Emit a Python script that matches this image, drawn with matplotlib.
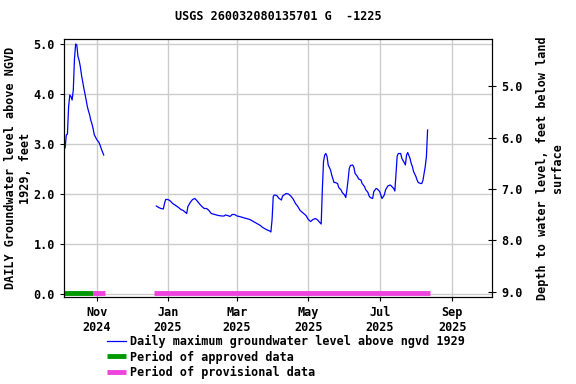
import datetime as dt
import matplotlib
matplotlib.use("Agg")
import matplotlib.pyplot as plt
import matplotlib.dates as mdates

plt.rcParams['font.family'] = 'DejaVu Sans Mono'
plt.rcParams['font.weight'] = 'bold'
plt.rcParams['axes.labelweight'] = 'bold'
plt.rcParams['axes.titleweight'] = 'bold'
plt.rcParams['font.size'] = 8.5

# first stretch of daily maximum levels, Oct 5 .. Nov 7 2024
seg1_start = dt.date(2024, 10, 5)
seg1_vals = [2.92, 3.18, 3.20, 3.75, 3.98, 3.95, 3.88, 4.08, 4.70, 5.00,
             4.98, 4.75, 4.67, 4.55, 4.38, 4.25, 4.12, 4.00, 3.88, 3.75,
             3.66, 3.58, 3.47, 3.40, 3.30, 3.18, 3.14, 3.09, 3.06, 3.03,
             2.97, 2.90, 2.84, 2.78]

# second stretch
seg2_dates = ["2024-12-22", "2024-12-24", "2024-12-26", "2024-12-28", "2024-12-29",
              "2024-12-30", "2025-01-01", "2025-01-03", "2025-01-05", "2025-01-07",
              "2025-01-10", "2025-01-12", "2025-01-14", "2025-01-16", "2025-01-17",
              "2025-01-18", "2025-01-20", "2025-01-22", "2025-01-24", "2025-01-26",
              "2025-01-28", "2025-01-30", "2025-02-01", "2025-02-03", "2025-02-05",
              "2025-02-07", "2025-02-10", "2025-02-13", "2025-02-16", "2025-02-18",
              "2025-02-19", "2025-02-21", "2025-02-23", "2025-02-25", "2025-02-27",
              "2025-03-01", "2025-03-03", "2025-03-06", "2025-03-09", "2025-03-12",
              "2025-03-15", "2025-03-18", "2025-03-21", "2025-03-23", "2025-03-26",
              "2025-03-29", "2025-03-30", "2025-03-31", "2025-04-01", "2025-04-02",
              "2025-04-04", "2025-04-06", "2025-04-08", "2025-04-09", "2025-04-12",
              "2025-04-14", "2025-04-16", "2025-04-18", "2025-04-20", "2025-04-22",
              "2025-04-24", "2025-04-27", "2025-04-29", "2025-05-01", "2025-05-03",
              "2025-05-05", "2025-05-07", "2025-05-09", "2025-05-10", "2025-05-12",
              "2025-05-13", "2025-05-14", "2025-05-15", "2025-05-16", "2025-05-17",
              "2025-05-18", "2025-05-20", "2025-05-21", "2025-05-23", "2025-05-24",
              "2025-05-26", "2025-05-27", "2025-05-29", "2025-05-30", "2025-06-01",
              "2025-06-02", "2025-06-03", "2025-06-04", "2025-06-05", "2025-06-06",
              "2025-06-08", "2025-06-09", "2025-06-10", "2025-06-12", "2025-06-13",
              "2025-06-15", "2025-06-16", "2025-06-18", "2025-06-19", "2025-06-21",
              "2025-06-22", "2025-06-23", "2025-06-25", "2025-06-26", "2025-06-28",
              "2025-06-29", "2025-07-01", "2025-07-02", "2025-07-03", "2025-07-05",
              "2025-07-06", "2025-07-08", "2025-07-10", "2025-07-11", "2025-07-13",
              "2025-07-14", "2025-07-15", "2025-07-16", "2025-07-17", "2025-07-19",
              "2025-07-20", "2025-07-22", "2025-07-23", "2025-07-24", "2025-07-25",
              "2025-07-27", "2025-07-28", "2025-07-29", "2025-07-30", "2025-08-01",
              "2025-08-02", "2025-08-03", "2025-08-05", "2025-08-06", "2025-08-07",
              "2025-08-08", "2025-08-09", "2025-08-10", "2025-08-11"]
seg2_vals = [1.76, 1.73, 1.71, 1.70, 1.81,
             1.89, 1.89, 1.86, 1.81, 1.78,
             1.73, 1.69, 1.67, 1.63, 1.61,
             1.75, 1.83, 1.89, 1.91, 1.86,
             1.80, 1.75, 1.71, 1.71, 1.67,
             1.61, 1.59, 1.57, 1.56, 1.56,
             1.58, 1.57, 1.55, 1.59, 1.59,
             1.56, 1.55, 1.53, 1.51, 1.49,
             1.45, 1.41, 1.37, 1.33, 1.29,
             1.26, 1.24, 1.49, 1.95, 1.98,
             1.97, 1.91, 1.88, 1.96, 2.01,
             2.00, 1.96, 1.90, 1.81, 1.75,
             1.67, 1.61, 1.57, 1.49, 1.45,
             1.49, 1.51, 1.48, 1.45, 1.40,
             2.10, 2.65, 2.78, 2.81, 2.75,
             2.58, 2.48, 2.38, 2.23, 2.23,
             2.21, 2.13, 2.08, 2.03, 1.98,
             1.93, 2.08, 2.28, 2.51, 2.57,
             2.58, 2.53, 2.41, 2.35, 2.30,
             2.28, 2.21, 2.15, 2.09, 2.03,
             1.96, 1.93, 1.91, 2.05, 2.11,
             2.10, 2.05, 1.98, 1.91, 1.98,
             2.08, 2.16, 2.18, 2.16, 2.11,
             2.06, 2.40, 2.76, 2.81, 2.81,
             2.71, 2.63, 2.58, 2.78, 2.83,
             2.71, 2.61, 2.55, 2.45, 2.35,
             2.28, 2.23, 2.21, 2.21, 2.27,
             2.41, 2.55, 2.75, 3.28]

approved = [("2024-10-04", "2024-10-29")]
provisional = [("2024-10-29", "2024-11-08"), ("2024-12-20", "2025-08-13")]

d1 = [seg1_start + dt.timedelta(days=i) for i in range(len(seg1_vals))]
d2 = [dt.datetime.strptime(s, "%Y-%m-%d") for s in seg2_dates]

fig = plt.figure(figsize=(5.76, 3.84), dpi=100)
ax = fig.add_axes([0.111, 0.2266, 0.743, 0.6718])

ax.plot(d1, seg1_vals, color='#0000ff', lw=0.9,
        label='Daily maximum groundwater level above ngvd 1929')
ax.plot(d2, seg2_vals, color='#0000ff', lw=0.9)

for i, (a, b) in enumerate(approved):
    ax.plot([dt.datetime.strptime(a, "%Y-%m-%d"), dt.datetime.strptime(b, "%Y-%m-%d")],
            [0.02, 0.02], color='#009900', lw=3.5, solid_capstyle='butt',
            label='Period of approved data' if i == 0 else None)
for i, (a, b) in enumerate(provisional):
    ax.plot([dt.datetime.strptime(a, "%Y-%m-%d"), dt.datetime.strptime(b, "%Y-%m-%d")],
            [0.02, 0.02], color='#ee44dd', lw=3.5, solid_capstyle='butt',
            label='Period of provisional data' if i == 0 else None)

ax.set_xlim(dt.date(2024, 10, 4), dt.date(2025, 10, 5))
ax.set_ylim(-0.06, 5.1)
ax.set_yticks([0, 1, 2, 3, 4, 5])
ax.set_yticklabels(['%.1f' % v for v in [0, 1, 2, 3, 4, 5]])
ax.xaxis.set_major_locator(mdates.MonthLocator(bymonth=[1, 3, 5, 7, 9, 11]))
ax.xaxis.set_major_formatter(mdates.DateFormatter('%b\n%Y'))
ax.grid(True, color='#cccccc', lw=1)
ax.set_axisbelow(True)
ax.tick_params(length=3)
ax.set_ylabel('DAILY Groundwater level above NGVD\n1929, feet', fontsize=8.5, labelpad=1)
ax.set_title('USGS 260032080135701 G  -1225', fontsize=8.5, pad=14)

ax2 = ax.twinx()
ax2.set_ylim(9.097, 4.087)
ax2.set_yticks([5, 6, 7, 8, 9])
ax2.set_yticklabels(['%.1f' % v for v in [5, 6, 7, 8, 9]])
ax2.tick_params(direction='inout', length=6)
ax2.set_ylabel('Depth to water level, feet below land\nsurface', fontsize=8.5, labelpad=10)

h, l = ax.get_legend_handles_labels()
fig.legend(h, l, loc='upper left', bbox_to_anchor=(0.178, 0.14), frameon=False,
           fontsize=8.5, handlelength=1.6, handletextpad=0.3, labelspacing=0.2,
           borderaxespad=0)

fig.savefig('out.png', dpi=100)
